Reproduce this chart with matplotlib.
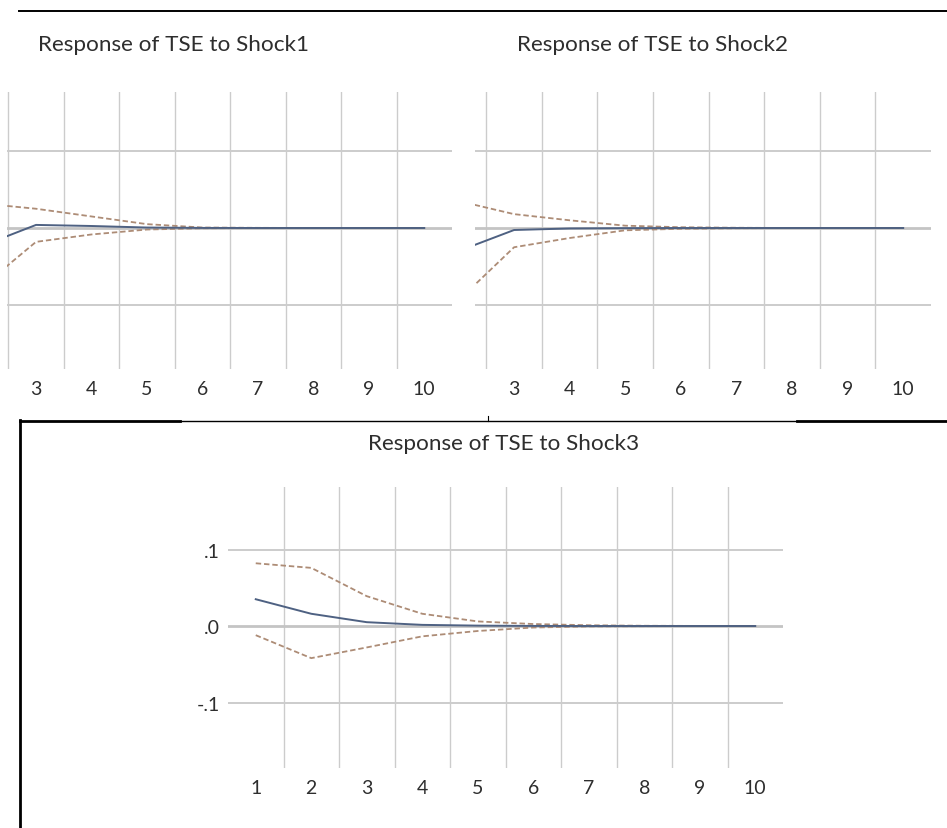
import numpy as np
import matplotlib
matplotlib.use("Agg")
from matplotlib import pyplot as plt
from matplotlib.lines import Line2D

W, H = 947, 829

# impulse responses of TSE, top panels only show periods 2..10
top_periods = np.arange(2, 11)
shock1_resp = [-0.024, 0.004, 0.0026, 0.0006, 0.0001, 0.0, 0.0, 0.0, 0.0]
shock1_upper = [0.032, 0.025, 0.015, 0.005, 0.0006, 0.0002, 0.0, 0.0, 0.0]
shock1_lower = [-0.078, -0.018, -0.0084, -0.002, -0.0003, -0.0001, 0.0, 0.0, 0.0]

shock2_resp = [-0.030, -0.0026, -0.0006, -0.0002, 0.0, 0.0, 0.0, 0.0, 0.0]
shock2_upper = [0.035, 0.018, 0.010, 0.003, 0.001, 0.0003, 0.0, 0.0, 0.0]
shock2_lower = [-0.094, -0.025, -0.013, -0.003, -0.001, -0.0003, 0.0, 0.0, 0.0]

periods = np.arange(1, 11)
shock3_resp = [0.035, 0.016, 0.005, 0.0015, 0.0005, 0.0001, 0.0, 0.0, 0.0, 0.0]
shock3_upper = [0.082, 0.076, 0.039, 0.016, 0.006, 0.0026, 0.001, 0.0003, 0.0001, 0.0]
shock3_lower = [-0.012, -0.042, -0.028, -0.0135, -0.0065, -0.002, -0.0005, -0.0002, 0.0, 0.0]

y_ticks = [-0.1, 0.0, 0.1]
y_labels = ["-.1", ".0", ".1"]

plt.rcParams["font.family"] = ["Lato", "DejaVu Sans"]

RESP_COLOR = "#4e6182"
BAND_COLOR = "#ad8c76"
GRID_COLOR = "#cccccc"
TEXT_COLOR = "#2e2e2e"


def px_axes(fig, left, top, right, bottom):
    return fig.add_axes([left / W, 1 - bottom / H, (right - left) / W, (bottom - top) / H])


def panel(ax, x, resp, upper, lower, xmin, ylim, yticks=False):
    ax.set_xlim(xmin, 10.5)
    ax.set_ylim(*ylim)
    for s in ax.spines.values():
        s.set_visible(False)
    for b in np.arange(1.5, 10, 1.0):
        if b > xmin:
            ax.axvline(b, color=GRID_COLOR, lw=1.0, zorder=0)
    ax.axhline(0.1, color=GRID_COLOR, lw=1.4, zorder=0)
    ax.axhline(-0.1, color=GRID_COLOR, lw=1.4, zorder=0)
    ax.axhline(0.0, color="#c4c4c4", lw=2.0, zorder=0)

    ax.plot(x, upper, color=BAND_COLOR, lw=1.3, dashes=(3, 1.6))
    ax.plot(x, lower, color=BAND_COLOR, lw=1.3, dashes=(3, 1.6))
    ax.plot(x, resp, color=RESP_COLOR, lw=1.4)

    shown = [p for p in x if p > xmin]
    ax.set_xticks(shown, [str(p) for p in shown])
    ax.tick_params(axis="x", length=0, pad=8, labelsize=14, labelcolor=TEXT_COLOR)
    if yticks:
        ax.set_yticks(y_ticks, y_labels)
        ax.tick_params(axis="y", length=0, pad=6, labelsize=14, labelcolor=TEXT_COLOR)
    else:
        ax.set_yticks([])


fig = plt.figure(figsize=(W / 100, H / 100), dpi=100)

# top-left: Shock1
ax1 = px_axes(fig, 7, 93, 452, 370)
panel(ax1, top_periods, shock1_resp, shock1_upper, shock1_lower, 2.477, (-0.1831, 0.1766))
fig.text(173 / W, 1 - 45 / H, "Response of TSE to Shock1", ha="center", va="center",
         fontsize=16.2, color=TEXT_COLOR)

# top-right: Shock2
ax2 = px_axes(fig, 475, 93, 931, 370)
panel(ax2, top_periods, shock2_resp, shock2_upper, shock2_lower, 2.297, (-0.1831, 0.1766))
fig.text(652 / W, 1 - 45 / H, "Response of TSE to Shock2", ha="center", va="center",
         fontsize=16.2, color=TEXT_COLOR)

# bottom: Shock3
ax3 = px_axes(fig, 228, 488, 783, 769)
panel(ax3, periods, shock3_resp, shock3_upper, shock3_lower, 0.5, (-0.1856, 0.1817), yticks=True)
fig.text(504 / W, 1 - 444 / H, "Response of TSE to Shock3", ha="center", va="center",
         fontsize=16.2, color=TEXT_COLOR)

# page rules and frame around the lower graph
def rule(x0, y0, x1, y1, lw):
    fig.add_artist(Line2D([x0 / W, x1 / W], [1 - y0 / H, 1 - y1 / H], color="black", lw=lw))

rule(19, 11.5, 947, 11.5, 1.4)
rule(20, 422, 180, 422, 2.0)
rule(180, 422, 797, 422, 1.0)
rule(797, 422, 947, 422, 2.0)
rule(20, 421, 20, 829, 2.0)
rule(488, 417, 488, 422, 0.8)

fig.savefig("out.png", dpi=100)
